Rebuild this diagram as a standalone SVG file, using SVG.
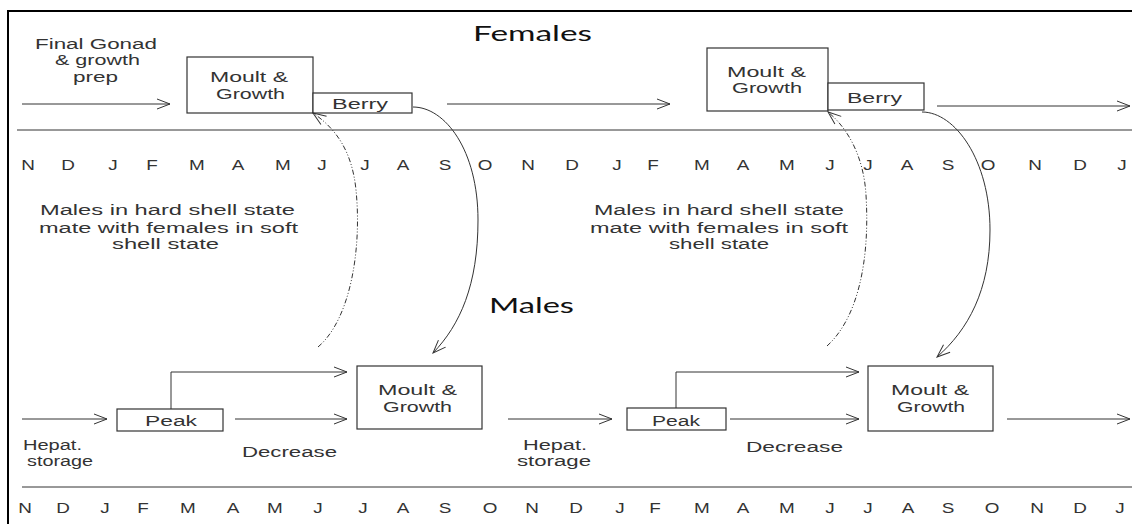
<svg xmlns="http://www.w3.org/2000/svg" width="1132" height="524" viewBox="0 0 1132 524">
<defs>
<marker id="arr" markerUnits="userSpaceOnUse" markerWidth="16" markerHeight="12" refX="13" refY="5" orient="auto" overflow="visible">
<path d="M0,0 L13,5 L0,10" fill="none" stroke="#333" stroke-width="1" stroke-dasharray="none"/>
</marker>
</defs>
<style>
.t{font-family:"Liberation Sans",Arial,sans-serif;font-size:14px;fill:#333;text-anchor:middle}
.l{font-family:"Liberation Sans",Arial,sans-serif;font-size:14px;fill:#333;text-anchor:start}
.m{font-family:"Liberation Sans",Arial,sans-serif;font-size:14px;fill:#333;text-anchor:middle}
.h{font-family:Lato,"Open Sans",sans-serif;font-size:21px;fill:#111;text-anchor:middle}
.box{fill:#fff;stroke:#333;stroke-width:1.2}
.ln{fill:none;stroke:#333;stroke-width:1}
.ar{fill:none;stroke:#333;stroke-width:1;marker-end:url(#arr)}
.dd{fill:none;stroke:#333;stroke-width:1;stroke-dasharray:5 2 1 2 1 2;marker-end:url(#arr)}
</style>
<rect width="1132" height="524" fill="#fff"/>
<path d="M8,524 V11 H1132" fill="none" stroke="#000" stroke-width="2"/>
<g id="separators">
<line class="ln" x1="17" y1="130" x2="1132" y2="130"/>
<line class="ln" x1="22" y1="487" x2="1132" y2="487"/>
</g>
<g id="titles">
<text class="h" x="532.5" y="41" textLength="119" lengthAdjust="spacingAndGlyphs">Females</text>
<text class="h" x="531.5" y="313" textLength="85" lengthAdjust="spacingAndGlyphs">Males</text>
</g>
<g id="labels">
<text class="t" x="96" y="49" textLength="122" lengthAdjust="spacingAndGlyphs">Final Gonad</text>
<text class="t" x="97.5" y="65" textLength="85" lengthAdjust="spacingAndGlyphs">&amp; growth</text>
<text class="t" x="95.5" y="82" textLength="45" lengthAdjust="spacingAndGlyphs">prep</text>
<text class="t" x="167.5" y="215" textLength="255" lengthAdjust="spacingAndGlyphs">Males in hard shell state</text>
<text class="t" x="168.5" y="233" textLength="259" lengthAdjust="spacingAndGlyphs">mate with females in soft</text>
<text class="t" x="165.5" y="249" textLength="107" lengthAdjust="spacingAndGlyphs">shell state</text>
<text class="t" x="719" y="215" textLength="250" lengthAdjust="spacingAndGlyphs">Males in hard shell state</text>
<text class="t" x="719" y="233" textLength="258" lengthAdjust="spacingAndGlyphs">mate with females in soft</text>
<text class="t" x="719" y="249" textLength="100" lengthAdjust="spacingAndGlyphs">shell state</text>
<text class="l" x="23" y="450" textLength="59" lengthAdjust="spacingAndGlyphs">Hepat.</text>
<text class="l" x="27" y="466" textLength="66" lengthAdjust="spacingAndGlyphs">storage</text>
<text class="l" x="523" y="450" textLength="64" lengthAdjust="spacingAndGlyphs">Hepat.</text>
<text class="l" x="517" y="466" textLength="74" lengthAdjust="spacingAndGlyphs">storage</text>
<text class="t" x="289.5" y="457" textLength="95" lengthAdjust="spacingAndGlyphs">Decrease</text>
<text class="t" x="794.5" y="452" textLength="97" lengthAdjust="spacingAndGlyphs">Decrease</text>
</g>
<g id="f-moult1">
<rect class="box" x="187" y="57" width="126" height="56"/>
<text class="t" x="249" y="82" textLength="78" lengthAdjust="spacingAndGlyphs">Moult &amp;</text>
<text class="t" x="250.5" y="99" textLength="69" lengthAdjust="spacingAndGlyphs">Growth</text>
</g>
<g id="f-berry1">
<rect class="box" x="313" y="93" width="99" height="20"/>
<text class="t" x="360" y="109" textLength="56" lengthAdjust="spacingAndGlyphs">Berry</text>
</g>
<g id="f-moult2">
<rect class="box" x="707" y="48" width="121" height="63"/>
<text class="t" x="766.5" y="77" textLength="79" lengthAdjust="spacingAndGlyphs">Moult &amp;</text>
<text class="t" x="767" y="93" textLength="70" lengthAdjust="spacingAndGlyphs">Growth</text>
</g>
<g id="f-berry2">
<rect class="box" x="828" y="83" width="96" height="27"/>
<text class="t" x="874.5" y="103" textLength="55" lengthAdjust="spacingAndGlyphs">Berry</text>
</g>
<g id="m-peak1">
<rect class="box" x="117" y="409" width="106" height="22"/>
<text class="t" x="171" y="426" textLength="52" lengthAdjust="spacingAndGlyphs">Peak</text>
</g>
<g id="m-moult1">
<rect class="box" x="357" y="366" width="125" height="63"/>
<text class="t" x="417.5" y="395" textLength="79" lengthAdjust="spacingAndGlyphs">Moult &amp;</text>
<text class="t" x="417.5" y="412" textLength="69" lengthAdjust="spacingAndGlyphs">Growth</text>
</g>
<g id="m-peak2">
<rect class="box" x="627" y="408" width="99" height="22"/>
<text class="t" x="676" y="426" textLength="48" lengthAdjust="spacingAndGlyphs">Peak</text>
</g>
<g id="m-moult2">
<rect class="box" x="868" y="366" width="125" height="65"/>
<text class="t" x="930" y="395" textLength="78" lengthAdjust="spacingAndGlyphs">Moult &amp;</text>
<text class="t" x="931" y="412" textLength="68" lengthAdjust="spacingAndGlyphs">Growth</text>
</g>
<g id="connectors">
<line class="ar" x1="22" y1="104" x2="170" y2="104"/>
<line class="ar" x1="447" y1="104" x2="670" y2="104"/>
<line class="ar" x1="937" y1="106" x2="1130" y2="106"/>
<line class="ar" x1="22" y1="419" x2="107" y2="419"/>
<line class="ar" x1="235" y1="419" x2="347" y2="419"/>
<polyline class="ar" points="171,409 171,372 347,372"/>
<line class="ar" x1="508" y1="419" x2="612" y2="419"/>
<line class="ar" x1="730" y1="419" x2="859" y2="419"/>
<polyline class="ar" points="676,408 676,372 859,372"/>
<line class="ar" x1="1007" y1="419" x2="1130" y2="419"/>
<path class="ar" d="M413,107 C445,107 478,150 478,220 C478,285 460,325 433,353"/>
<path class="ar" d="M922,112 C955,112 990,160 990,230 C990,290 968,330 937,357"/>
<path class="dd" d="M318,347 C350,320 362,250 356,190 C352,150 335,128 313,113"/>
<path class="dd" d="M827,346 C858,318 870,260 866,195 C864,160 850,130 828,112"/>
</g>
<g id="months-top" transform="scale(1.35 1)">
<text class="m" x="20.74" y="170">N</text><text class="m" x="50.37" y="170">D</text><text class="m" x="83.70" y="170">J</text><text class="m" x="112.59" y="170">F</text><text class="m" x="145.93" y="170">M</text><text class="m" x="176.30" y="170">A</text><text class="m" x="209.63" y="170">M</text><text class="m" x="238.52" y="170">J</text><text class="m" x="270.37" y="170">J</text><text class="m" x="298.52" y="170">A</text><text class="m" x="329.63" y="170">S</text><text class="m" x="359.26" y="170">O</text><text class="m" x="391.11" y="170">N</text><text class="m" x="423.70" y="170">D</text><text class="m" x="457.04" y="170">J</text><text class="m" x="483.70" y="170">F</text><text class="m" x="520" y="170">M</text><text class="m" x="550.37" y="170">A</text><text class="m" x="582.96" y="170">M</text><text class="m" x="614.81" y="170">J</text><text class="m" x="642.96" y="170">J</text><text class="m" x="671.85" y="170">A</text><text class="m" x="702.22" y="170">S</text><text class="m" x="731.85" y="170">O</text><text class="m" x="766.67" y="170">N</text><text class="m" x="800" y="170">D</text><text class="m" x="831.11" y="170">J</text>
</g>
<g id="months-bottom" transform="scale(1.35 1)">
<text class="m" x="18.52" y="513">N</text><text class="m" x="46.67" y="513">D</text><text class="m" x="77.78" y="513">J</text><text class="m" x="105.93" y="513">F</text><text class="m" x="139.26" y="513">M</text><text class="m" x="172.59" y="513">A</text><text class="m" x="203.70" y="513">M</text><text class="m" x="235.56" y="513">J</text><text class="m" x="268.89" y="513">J</text><text class="m" x="298.52" y="513">A</text><text class="m" x="329.63" y="513">S</text><text class="m" x="362.96" y="513">O</text><text class="m" x="394.07" y="513">N</text><text class="m" x="426.67" y="513">D</text><text class="m" x="459.26" y="513">J</text><text class="m" x="485.19" y="513">F</text><text class="m" x="520" y="513">M</text><text class="m" x="550.37" y="513">A</text><text class="m" x="582.96" y="513">M</text><text class="m" x="614.81" y="513">J</text><text class="m" x="642.96" y="513">J</text><text class="m" x="672.59" y="513">A</text><text class="m" x="702.22" y="513">S</text><text class="m" x="734.81" y="513">O</text><text class="m" x="768.15" y="513">N</text><text class="m" x="800" y="513">D</text><text class="m" x="829.63" y="513">J</text>
</g>
</svg>
